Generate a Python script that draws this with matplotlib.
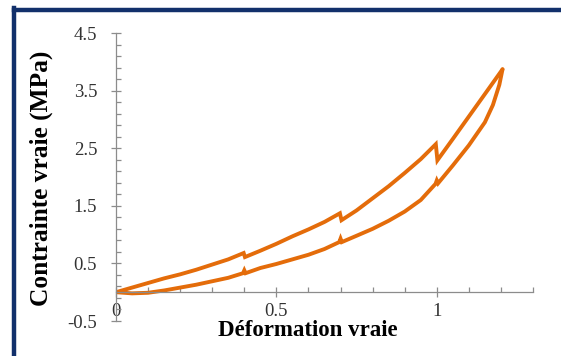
import matplotlib
matplotlib.use("Agg")
import matplotlib.pyplot as plt
import numpy as np
from matplotlib.lines import Line2D
from matplotlib.ticker import MultipleLocator, FixedLocator

# Upper branch of the hysteresis loop (strain, stress)
upper_x = [0.0, 0.05, 0.10, 0.15, 0.20, 0.25, 0.30, 0.35, 0.398, 0.402,
           0.45, 0.50, 0.55, 0.60, 0.65, 0.698, 0.703,
           0.75, 0.80, 0.85, 0.90, 0.95, 0.997, 1.002,
           1.05, 1.10, 1.15, 1.205]
upper_y = [0.0, 0.08, 0.16, 0.24, 0.31, 0.39, 0.48, 0.57, 0.68, 0.61,
           0.72, 0.84, 0.97, 1.09, 1.22, 1.37, 1.25,
           1.42, 1.63, 1.84, 2.07, 2.31, 2.57, 2.29,
           2.66, 3.05, 3.44, 3.87]

# Lower branch
lower_x = [0.0, 0.05, 0.10, 0.15, 0.20, 0.25, 0.30, 0.35, 0.396, 0.400, 0.404,
           0.45, 0.50, 0.55, 0.60, 0.65, 0.696, 0.700, 0.704,
           0.75, 0.80, 0.85, 0.90, 0.95, 0.996, 1.000, 1.004,
           1.05, 1.10, 1.15, 1.175, 1.195, 1.205]
lower_y = [0.0, -0.02, -0.01, 0.03, 0.08, 0.13, 0.19, 0.25, 0.33, 0.38, 0.33,
           0.42, 0.49, 0.57, 0.65, 0.75, 0.87, 0.93, 0.87,
           0.98, 1.10, 1.24, 1.40, 1.60, 1.88, 1.94, 1.89,
           2.20, 2.55, 2.95, 3.25, 3.60, 3.87]

x_ticks = [0, 0.5, 1]
x_ticklabels = ["0", "0.5", "1"]
y_ticks = [-0.5, 0.5, 1.5, 2.5, 3.5, 4.5]
y_ticklabels = ["-0.5", "0.5", "1.5", "2.5", "3.5", "4.5"]

serif = ["Liberation Serif", "DejaVu Serif"]
orange = "#E46C0A"
gray = "#8C8C8C"

fig = plt.figure(figsize=(5.61, 3.56), dpi=100)
ax = fig.add_axes([116/561, 35/356, 417/561, 288/356])

ax.plot(upper_x, upper_y, color=orange, lw=2.8, solid_joinstyle="miter", solid_capstyle="round")
ax.plot(lower_x, lower_y, color=orange, lw=2.8, solid_joinstyle="miter", solid_capstyle="round")

ax.set_xlim(0, 1.3)
ax.set_ylim(-0.5, 4.5)

for s in ["top", "right"]:
    ax.spines[s].set_visible(False)
ax.spines["bottom"].set_position(("data", 0))
for s in ["left", "bottom"]:
    ax.spines[s].set_color(gray)
    ax.spines[s].set_linewidth(0.9)

ax.xaxis.set_major_locator(FixedLocator(x_ticks))
ax.set_xticklabels(x_ticklabels)
ax.xaxis.set_minor_locator(MultipleLocator(0.1))
ax.yaxis.set_major_locator(FixedLocator(y_ticks))
ax.set_yticklabels(y_ticklabels)
ax.yaxis.set_minor_locator(FixedLocator(np.arange(-0.5, 4.51, 0.2)))

ax.tick_params(axis="x", which="major", direction="inout", length=7, width=0.9, color=gray,
               pad=4, labelsize=13.5, labelcolor="#333333")
ax.tick_params(axis="x", which="minor", direction="in", length=3.5, width=0.9, color=gray)
ax.tick_params(axis="y", which="major", direction="inout", length=7, width=0.9, color=gray,
               pad=10, labelsize=13.5, labelcolor="#333333")
ax.tick_params(axis="y", which="minor", direction="in", length=3.5, width=0.9, color=gray)
for lab in ax.get_xticklabels() + ax.get_yticklabels():
    lab.set_family(serif)

fig.text(308/561, 1 - 336/356, "Déformation vraie", family=serif, fontweight="bold",
         fontsize=16.5, ha="center", va="baseline")
fig.text(41/561, 1 - 178/356, "Contrainte vraie (MPa)", family=serif, fontweight="bold",
         fontsize=18.3, ha="center", va="center", rotation=90)

navy = "#12306B"
fig.add_artist(Line2D([14/561, 14/561], [0, 1 - 8/356], transform=fig.transFigure,
                      color=navy, lw=3.2, solid_capstyle="projecting"))
fig.add_artist(Line2D([14/561, 1], [1 - 9.5/356, 1 - 9.5/356], transform=fig.transFigure,
                      color=navy, lw=3.2, solid_capstyle="projecting"))

fig.savefig("out.png", dpi=100)
